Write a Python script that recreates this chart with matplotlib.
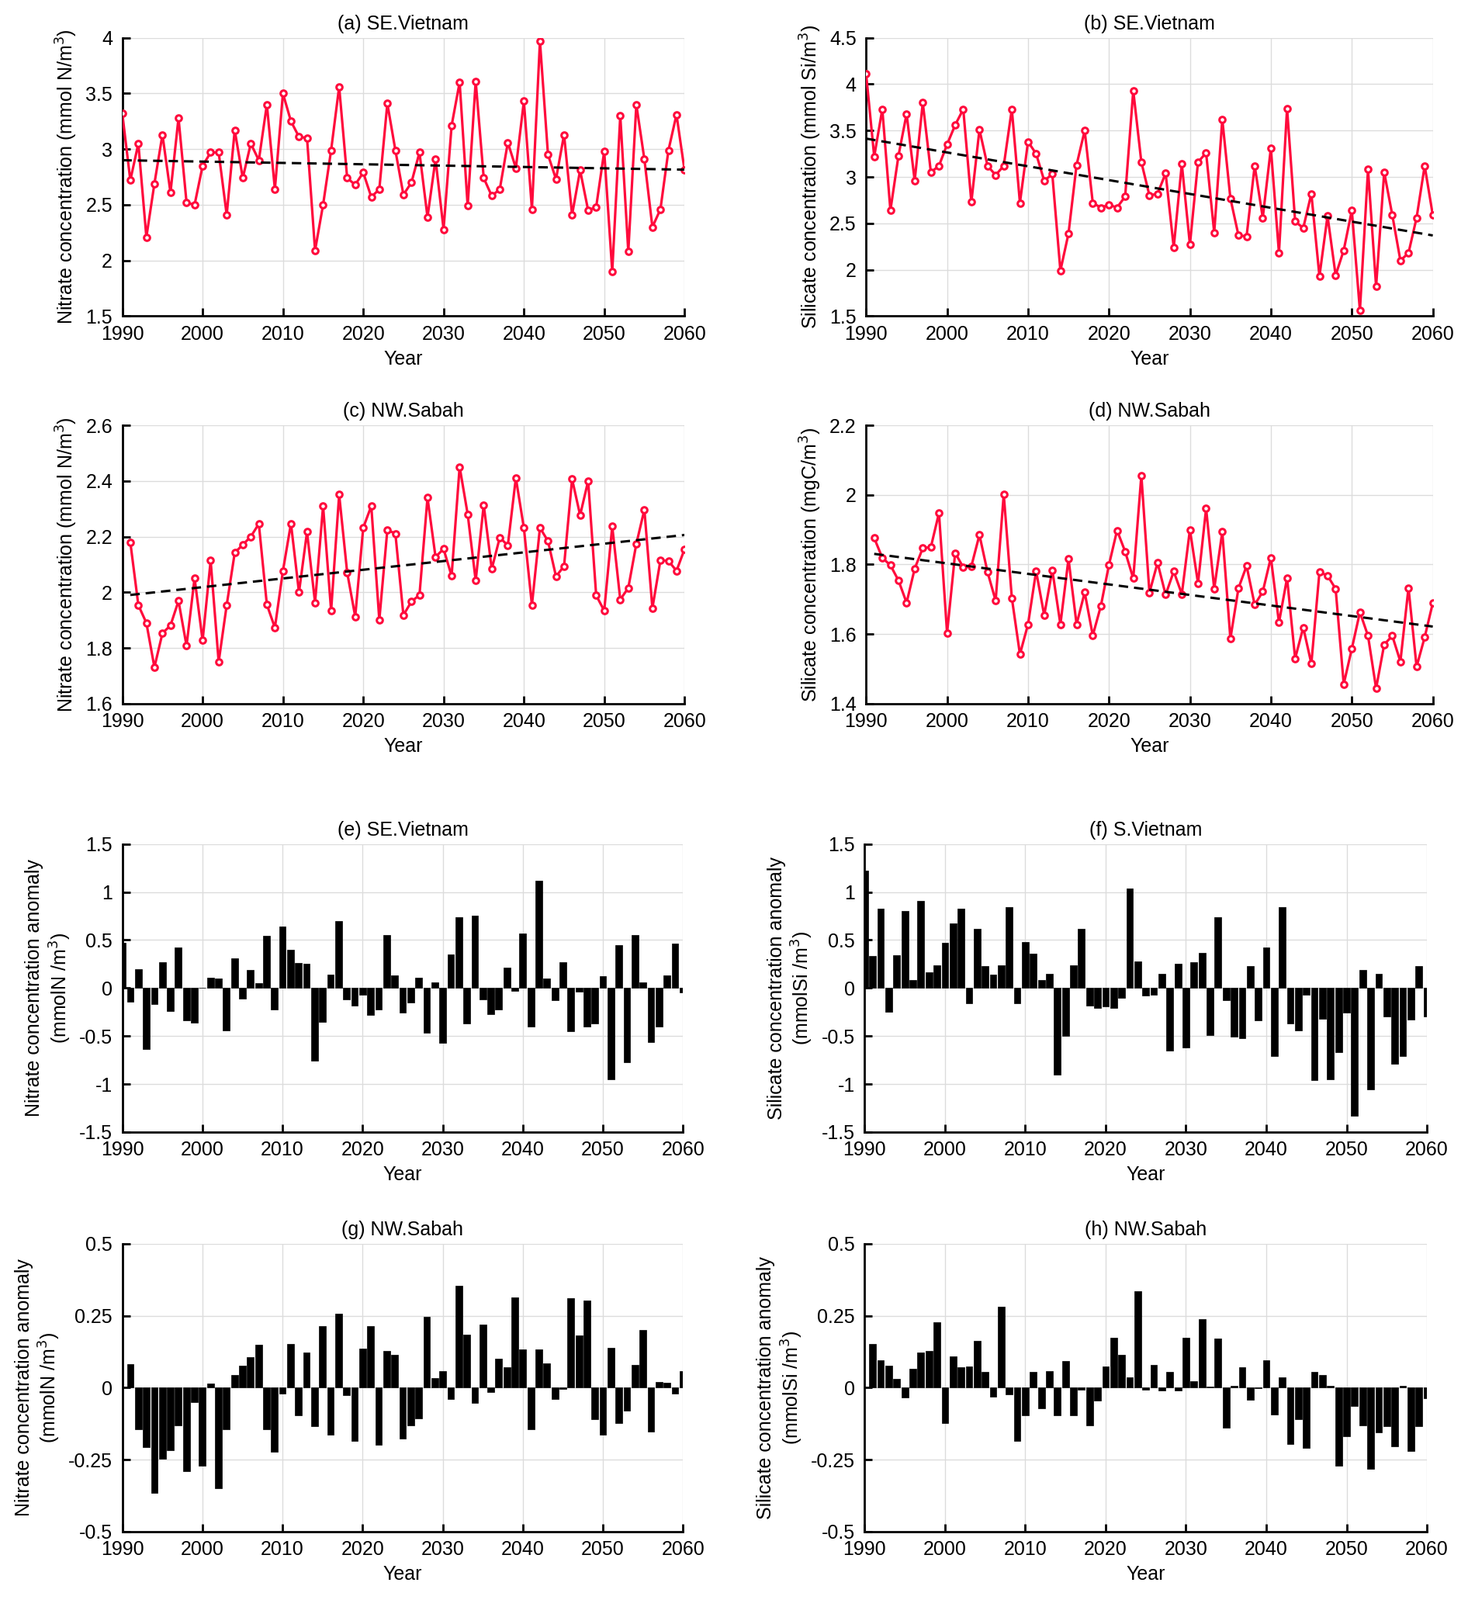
import matplotlib
matplotlib.use('Agg')
import matplotlib.pyplot as plt
import numpy as np
from matplotlib.ticker import FuncFormatter

plt.rcParams['font.family'] = ['Liberation Sans', 'DejaVu Sans']
plt.rcParams['axes.unicode_minus'] = False

# years
years_a = np.arange(1990, 2061)   # SE.Vietnam series start in 1990
years_c = np.arange(1991, 2061)   # NW.Sabah series start in 1991

# (a) nitrate, SE.Vietnam (mmol N/m3)
nitrate_sev = [3.32, 2.72, 3.05, 2.21, 2.69, 3.13, 2.61, 3.28, 2.52, 2.50,
               2.85, 2.97, 2.97, 2.41, 3.17, 2.74, 3.05, 2.90, 3.40, 2.64,
               3.50, 3.25, 3.11, 3.10, 2.09, 2.50, 2.99, 3.56, 2.74, 2.68,
               2.79, 2.57, 2.64, 3.41, 2.99, 2.59, 2.70, 2.97, 2.39, 2.91,
               2.28, 3.21, 3.60, 2.49, 3.61, 2.74, 2.58, 2.64, 3.06, 2.83,
               3.43, 2.46, 3.97, 2.95, 2.73, 3.13, 2.41, 2.81, 2.45, 2.48,
               2.98, 1.90, 3.30, 2.08, 3.40, 2.91, 2.30, 2.46, 2.99, 3.31,
               2.81]

# (b) silicate, SE.Vietnam (mmol Si/m3)
silicate_sev = [4.11, 3.22, 3.73, 2.64, 3.23, 3.68, 2.96, 3.80, 3.05, 3.12,
                3.35, 3.56, 3.73, 2.73, 3.51, 3.12, 3.02, 3.12, 3.73, 2.72,
                3.38, 3.25, 2.96, 3.03, 1.99, 2.39, 3.13, 3.50, 2.72, 2.67,
                2.70, 2.67, 2.79, 3.93, 3.16, 2.80, 2.82, 3.04, 2.24, 3.14,
                2.27, 3.16, 3.26, 2.40, 3.62, 2.77, 2.37, 2.36, 3.12, 2.56,
                3.31, 2.18, 3.74, 2.52, 2.45, 2.82, 1.93, 2.58, 1.94, 2.21,
                2.64, 1.56, 3.08, 1.82, 3.05, 2.59, 2.10, 2.18, 2.56, 3.12,
                2.59]

# (c) nitrate, NW.Sabah
nitrate_nws = [2.180, 1.954, 1.890, 1.731, 1.853, 1.881, 1.969, 1.808, 2.051,
               1.827, 2.114, 1.750, 1.954, 2.142, 2.171, 2.200, 2.246, 1.956,
               1.873, 2.077, 2.247, 2.000, 2.217, 1.963, 2.310, 1.934, 2.351,
               2.071, 1.913, 2.232, 2.310, 1.901, 2.224, 2.211, 1.918, 1.967,
               1.990, 2.340, 2.127, 2.156, 2.059, 2.451, 2.281, 2.042, 2.314,
               2.084, 2.197, 2.168, 2.411, 2.231, 1.954, 2.232, 2.184, 2.057,
               2.094, 2.407, 2.277, 2.400, 1.989, 1.934, 2.237, 1.974, 2.016,
               2.174, 2.297, 1.943, 2.115, 2.113, 2.077, 2.155]

# (d) silicate, NW.Sabah (mgC/m3)
silicate_nws = [1.876, 1.819, 1.798, 1.754, 1.690, 1.788, 1.847, 1.850, 1.948,
                1.603, 1.833, 1.792, 1.795, 1.885, 1.778, 1.696, 2.002, 1.704,
                1.542, 1.628, 1.781, 1.654, 1.784, 1.628, 1.816, 1.628, 1.720,
                1.596, 1.681, 1.799, 1.898, 1.837, 1.760, 2.056, 1.719, 1.805,
                1.713, 1.780, 1.715, 1.900, 1.746, 1.961, 1.730, 1.894, 1.587,
                1.732, 1.796, 1.684, 1.722, 1.820, 1.633, 1.761, 1.530, 1.619,
                1.515, 1.778, 1.768, 1.730, 1.456, 1.558, 1.663, 1.595, 1.444,
                1.570, 1.595, 1.521, 1.733, 1.506, 1.591, 1.689]

# (e) nitrate anomaly, SE.Vietnam
nitrate_anom_sev = [0.47, -0.14, 0.20, -0.64, -0.17, 0.27, -0.24, 0.42, -0.34, -0.36,
                    0.00, 0.11, 0.10, -0.44, 0.31, -0.11, 0.19, 0.05, 0.54, -0.22,
                    0.64, 0.40, 0.26, 0.25, -0.76, -0.35, 0.14, 0.70, -0.12, -0.18,
                    -0.07, -0.28, -0.22, 0.55, 0.13, -0.26, -0.15, 0.11, -0.47, 0.06,
                    -0.57, 0.35, 0.74, -0.37, 0.75, -0.12, -0.27, -0.22, 0.21, -0.03,
                    0.57, -0.40, 1.12, 0.10, -0.13, 0.27, -0.45, -0.04, -0.40, -0.37,
                    0.12, -0.95, 0.45, -0.77, 0.55, 0.06, -0.56, -0.40, 0.13, 0.46,
                    -0.05]

# (f) silicate anomaly, S.Vietnam
silicate_anom_sv = [1.22, 0.33, 0.83, -0.25, 0.34, 0.80, 0.08, 0.91, 0.16, 0.24,
                    0.47, 0.67, 0.83, -0.16, 0.62, 0.23, 0.14, 0.24, 0.84, -0.16,
                    0.48, 0.36, 0.08, 0.15, -0.90, -0.50, 0.24, 0.62, -0.18, -0.21,
                    -0.19, -0.21, -0.10, 1.04, 0.28, -0.08, -0.07, 0.15, -0.65, 0.25,
                    -0.62, 0.27, 0.37, -0.49, 0.74, -0.13, -0.51, -0.52, 0.23, -0.34,
                    0.42, -0.71, 0.84, -0.37, -0.44, -0.07, -0.96, -0.32, -0.95, -0.67,
                    -0.26, -1.33, 0.19, -1.06, 0.15, -0.30, -0.79, -0.71, -0.33, 0.23,
                    -0.30]

# (g) nitrate anomaly, NW.Sabah
nitrate_anom_nws = [0.083, -0.144, -0.207, -0.366, -0.246, -0.216, -0.131, -0.290, -0.049,
                    -0.272, 0.015, -0.349, -0.144, 0.045, 0.077, 0.105, 0.149, -0.144,
                    -0.223, -0.020, 0.153, -0.095, 0.121, -0.134, 0.213, -0.162, 0.257,
                    -0.025, -0.184, 0.137, 0.213, -0.198, 0.128, 0.115, -0.178, -0.130,
                    -0.106, 0.245, 0.033, 0.058, -0.039, 0.355, 0.184, -0.054, 0.219,
                    -0.014, 0.102, 0.070, 0.314, 0.134, -0.144, 0.134, 0.085, -0.040,
                    -0.004, 0.311, 0.181, 0.302, -0.110, -0.164, 0.139, -0.124, -0.081,
                    0.080, 0.200, -0.153, 0.020, 0.016, -0.021, 0.058]

# (h) silicate anomaly, NW.Sabah
silicate_anom_nws = [0.153, 0.096, 0.077, 0.031, -0.033, 0.067, 0.121, 0.128, 0.226,
                     -0.122, 0.108, 0.070, 0.074, 0.162, 0.055, -0.030, 0.280, -0.023,
                     -0.186, -0.097, 0.054, -0.072, 0.058, -0.097, 0.092, -0.097, -0.007,
                     -0.132, -0.046, 0.074, 0.174, 0.115, 0.035, 0.334, -0.007, 0.080,
                     -0.011, 0.054, -0.011, 0.174, 0.023, 0.237, 0.004, 0.172, -0.138,
                     0.007, 0.070, -0.042, -0.002, 0.096, -0.094, 0.035, -0.197, -0.110,
                     -0.210, 0.054, 0.045, 0.007, -0.270, -0.169, -0.065, -0.131, -0.283,
                     -0.156, -0.134, -0.203, 0.007, -0.220, -0.134, -0.037]

RED = '#FF0A3C'
FS = 18

fig = plt.figure(figsize=(18.92, 20.62), dpi=100)

# axes positions [left, bottom, width, height] in figure fraction
pos = {
    'a': [0.0833, 0.8024, 0.383, 0.174],
    'b': [0.590, 0.8024, 0.386, 0.174],
    'c': [0.0833, 0.5602, 0.383, 0.174],
    'd': [0.590, 0.5602, 0.386, 0.174],
    'e': [0.0833, 0.2925, 0.382, 0.180],
    'f': [0.589, 0.2925, 0.383, 0.180],
    'g': [0.0833, 0.0427, 0.382, 0.180],
    'h': [0.589, 0.0427, 0.383, 0.180],
}


def style_axes(ax, title, ylabel, yticks):
    ax.set_xlim(1990, 2060)
    ax.set_xticks(np.arange(1990, 2061, 10))
    ax.set_ylim(yticks[0], yticks[-1])
    ax.set_yticks(yticks)
    ax.yaxis.set_major_formatter(FuncFormatter(lambda v, p: '%g' % round(v, 4)))
    ax.grid(True, color='#dcdcdc', linewidth=1.0)
    ax.set_axisbelow(True)
    for s in ['top', 'right']:
        ax.spines[s].set_visible(False)
    for s in ['left', 'bottom']:
        ax.spines[s].set_linewidth(2.0)
    ax.tick_params(direction='in', length=7, width=2.0, labelsize=FS)
    ax.tick_params(axis='x', pad=8)
    ax.tick_params(axis='y', pad=9)
    ax.set_title(title, fontsize=FS, pad=8)
    ax.set_xlabel('Year', fontsize=FS, labelpad=6)
    ax.set_ylabel(ylabel, fontsize=FS, labelpad=6)


def line_panel(ax, years, values, title, ylabel, yticks):
    vals = np.array(values)
    ax.plot(years, vals, color=RED, lw=2.3, marker='o', ms=5.5,
            mfc='white', mec=RED, mew=2.2, zorder=3)
    k, b = np.polyfit(years, vals, 1)
    ax.plot(years, k * years + b, 'k--', lw=2.2, dashes=(4, 2.5), zorder=4)
    style_axes(ax, title, ylabel, yticks)


def bar_panel(ax, years, values, title, ylabel, yticks):
    ax.bar(years, values, width=0.85, color='black', edgecolor='black',
           linewidth=0.5, zorder=3)
    style_axes(ax, title, ylabel, yticks)


ax = fig.add_axes(pos['a'])
line_panel(ax, years_a, nitrate_sev, '(a) SE.Vietnam',
           'Nitrate concentration (mmol N/m$^3$)', np.arange(1.5, 4.01, 0.5))
ax = fig.add_axes(pos['b'])
line_panel(ax, years_a, silicate_sev, '(b) SE.Vietnam',
           'Silicate concentration (mmol Si/m$^3$)', np.arange(1.5, 4.51, 0.5))
ax = fig.add_axes(pos['c'])
line_panel(ax, years_c, nitrate_nws, '(c) NW.Sabah',
           'Nitrate concentration (mmol N/m$^3$)', np.arange(1.6, 2.61, 0.2))
ax = fig.add_axes(pos['d'])
line_panel(ax, years_c, silicate_nws, '(d) NW.Sabah',
           'Silicate concentration (mgC/m$^3$)', np.arange(1.4, 2.21, 0.2))

ax = fig.add_axes(pos['e'])
bar_panel(ax, years_a, nitrate_anom_sev, '(e) SE.Vietnam',
          'Nitrate concentration anomaly\n(mmolN /m$^3$)', np.arange(-1.5, 1.51, 0.5))
ax = fig.add_axes(pos['f'])
bar_panel(ax, years_a, silicate_anom_sv, '(f) S.Vietnam',
          'Silicate concentration anomaly\n(mmolSi /m$^3$)', np.arange(-1.5, 1.51, 0.5))
ax = fig.add_axes(pos['g'])
bar_panel(ax, years_c, nitrate_anom_nws, '(g) NW.Sabah',
          'Nitrate concentration anomaly\n(mmolN /m$^3$)', np.arange(-0.5, 0.51, 0.25))
ax = fig.add_axes(pos['h'])
bar_panel(ax, years_c, silicate_anom_nws, '(h) NW.Sabah',
          'Silicate concentration anomaly\n(mmolSi /m$^3$)', np.arange(-0.5, 0.51, 0.25))

fig.savefig('out.png', dpi=100, facecolor='white')
